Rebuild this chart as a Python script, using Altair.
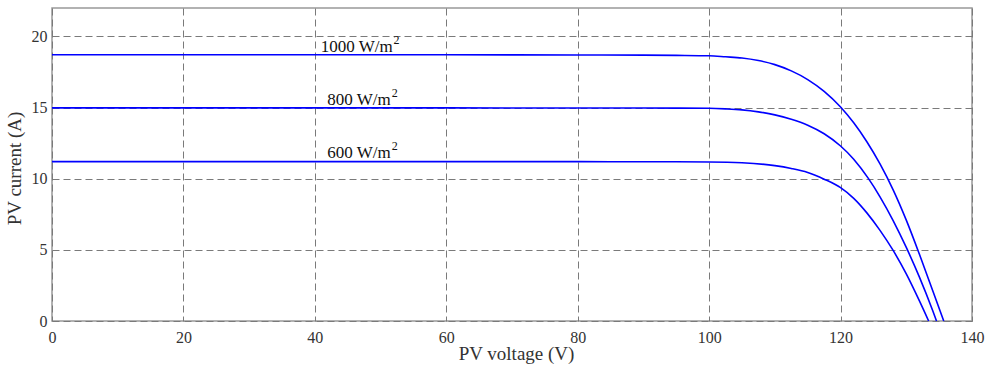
import altair as alt
import pandas as pd

# PV I-V curves (voltage V, current A)
v_1000 = [0, 20, 40, 60, 80, 90, 95, 100, 102.5, 105, 107.5, 110, 112.5, 115, 117.5, 120,
          122, 124, 126, 128, 130, 132, 134, 135.7]
i_1000 = [18.71, 18.71, 18.71, 18.71, 18.70, 18.69, 18.67, 18.64, 18.57, 18.49, 18.31, 18.02, 17.58, 16.97, 16.14, 15.04,
          13.93, 12.60, 11.04, 9.22, 7.09, 4.69, 2.16, 0.0]

v_800 = [0, 20, 40, 60, 80, 90, 95, 100, 102.5, 105, 107.5, 110, 112.5, 115, 117.5, 120,
         122, 124.2, 126, 128, 130, 132, 134, 134.6]
i_800 = [14.98, 14.98, 14.98, 14.98, 14.97, 14.97, 14.96, 14.95, 14.91, 14.84, 14.70, 14.49, 14.18, 13.76, 13.16, 12.30,
         11.37, 10.04, 8.73, 7.06, 5.17, 3.08, 0.75, 0.0]

v_600 = [0, 20, 40, 60, 80, 90, 95, 100, 105, 110, 112.5, 115, 117.5, 120,
         122, 124, 126, 128, 130, 132, 133.4]
i_600 = [11.2, 11.2, 11.2, 11.2, 11.2, 11.19, 11.19, 11.18, 11.12, 10.92, 10.72, 10.44, 9.97, 9.37,
         8.62, 7.60, 6.37, 4.96, 3.31, 1.41, 0.0]

series_names = ["1000", "800", "600"]

# annotation anchors (data coordinates, left edge / baseline of each label)
label_main = ["1000 W/m", "800 W/m", "600 W/m"]
label_v = [40.9, 41.9, 41.9]
label_i = [18.94, 15.19, 11.44]

x_ticks = [0, 20, 40, 60, 80, 100, 120, 140]
y_ticks = [0, 5, 10, 15, 20]

rows = []
for name, vs, cs in zip(series_names, [v_1000, v_800, v_600], [i_1000, i_800, i_600]):
    for k, (v, c) in enumerate(zip(vs, cs)):
        rows.append({"series": name, "order": k, "V": v, "I": c})
df = pd.DataFrame(rows)
labels = pd.DataFrame({"text": label_main, "V": label_v, "I": label_i})

FONT = "Liberation Serif"
TXT = "#333333"
LABEL_FS = 17

xscale = alt.Scale(domain=[0, 140], nice=False)
yscale = alt.Scale(domain=[0, 22], nice=False)

xaxis = alt.Axis(
    values=x_ticks, title="PV voltage (V)", grid=True, gridDash=[7, 4], gridColor="#7a7a7a",
    gridWidth=1, domain=False, ticks=False, labelPadding=8, labelFontSize=16,
    labelFont=FONT, labelColor=TXT, titleFont=FONT, titleFontSize=19, titleFontWeight="normal",
    titleColor=TXT, titleX=464, titleY=32, titleBaseline="middle", labelFlush=False,
)
yaxis = alt.Axis(
    values=y_ticks, title="PV current (A)", grid=True, gridDash=[7, 4], gridColor="#7a7a7a",
    gridWidth=1, domain=False, ticks=False, labelPadding=5, labelFontSize=16,
    labelFont=FONT, labelColor=TXT, titleFont=FONT, titleFontSize=19, titleFontWeight="normal",
    titleColor=TXT, titleX=-38, titleY=160, titleBaseline="middle", titleAngle=-90,
    labelFlush=False,
)

lines = alt.Chart(df).mark_line(color="#0000ff", strokeWidth=1.6, interpolate="monotone").encode(
    x=alt.X("V:Q", scale=xscale, axis=xaxis),
    y=alt.Y("I:Q", scale=yscale, axis=yaxis),
    detail="series:N",
    order="order:Q",
)

texts = alt.Chart(labels).mark_text(
    font=FONT, fontSize=LABEL_FS, color="#111111", align="left", baseline="alphabetic"
).encode(
    x=alt.X("V:Q", scale=xscale),
    y=alt.Y("I:Q", scale=yscale),
    text="text:N",
)

# superscript "2" placed right after each main string
sup_dx = [72.8, 64.3, 64.3]
sup_layers = []
for v, c, dx in zip(label_v, label_i, sup_dx):
    one = pd.DataFrame({"V": [v], "I": [c], "sup": ["2"]})
    sup_layers.append(
        alt.Chart(one).mark_text(
            font=FONT, fontSize=12, color="#111111", align="left", baseline="alphabetic",
            dx=dx, dy=-8,
        ).encode(
            x=alt.X("V:Q", scale=xscale),
            y=alt.Y("I:Q", scale=yscale),
            text="sup:N",
        )
    )

chart = alt.layer(lines, texts, *sup_layers).properties(
    width=920, height=313,
    autosize=alt.AutoSizeParams(type="none"),
    padding={"left": 52, "top": 8, "right": 16, "bottom": 49},
    background="white",
).configure_view(stroke="#999999", strokeWidth=1.5)

chart.save("out.html", embed_options={"renderer": "svg", "actions": False})
